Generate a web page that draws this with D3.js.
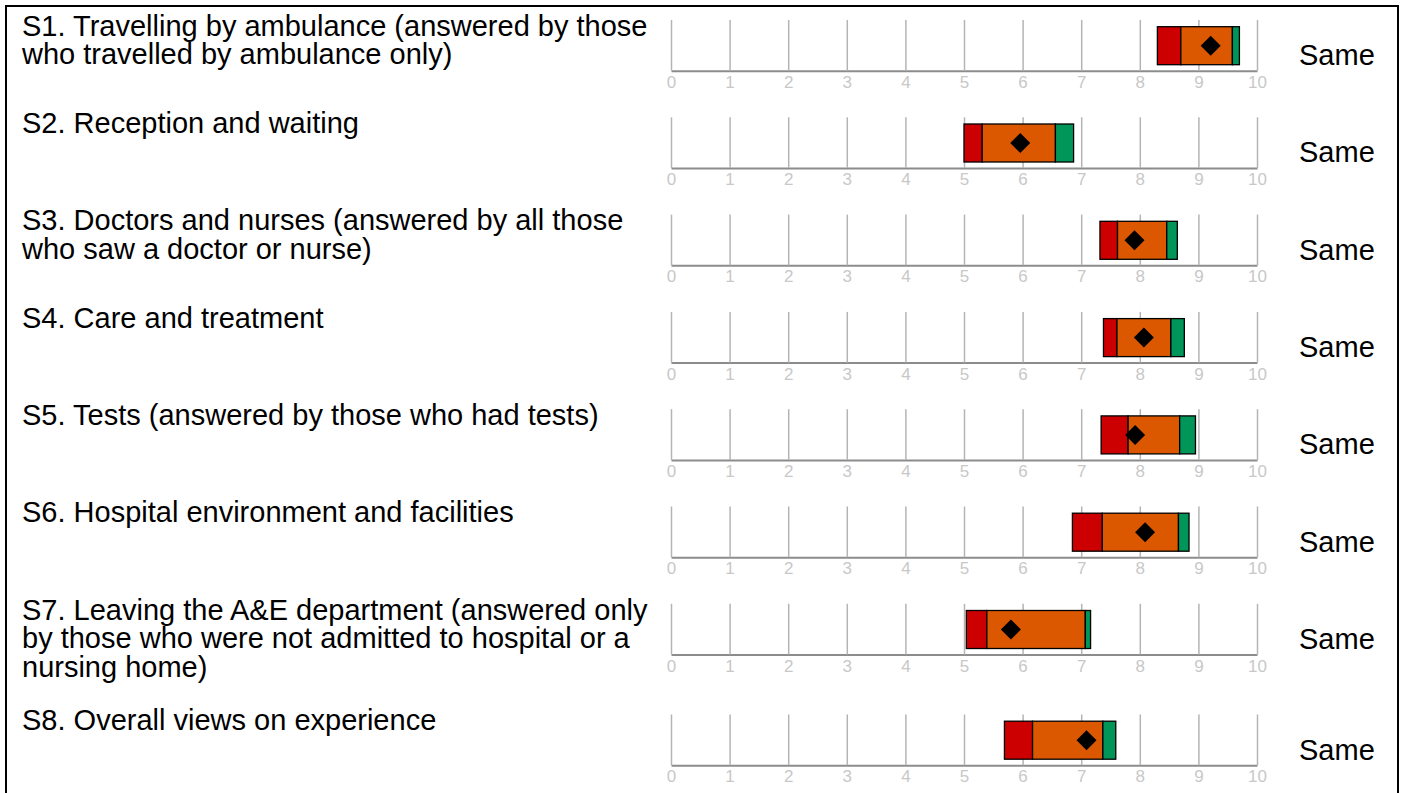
<!DOCTYPE html>
<html>
<head>
<meta charset="utf-8">
<script src="https://cdn.jsdelivr.net/npm/d3@7"></script>
<style>
  body { margin: 0; background: #fff; }
  svg { display: block; }
  .axis .domain { stroke: #8c8c8c; stroke-width: 2; }
  .axis .tick line { stroke: #b4b4b4; stroke-width: 1.5; }
  .axis .tick text { fill: #c8c8c8; font-family: "Liberation Sans", Arial, sans-serif; font-size: 17px; }
</style>
</head>
<body>
<svg id="chart" width="1404" height="793"></svg>
<script>
// Section labels, already wrapped as in the report
const sections = [
  ['S1. Travelling by ambulance (answered by those', 'who travelled by ambulance only)'],
  ['S2. Reception and waiting'],
  ['S3. Doctors and nurses (answered by all those', 'who saw a doctor or nurse)'],
  ['S4. Care and treatment'],
  ['S5. Tests (answered by those who had tests)'],
  ['S6. Hospital environment and facilities'],
  ['S7. Leaving the A&E department (answered only', 'by those who were not admitted to hospital or a', 'nursing home)'],
  ['S8. Overall views on experience']
];

// Band edges on the 0-10 scale
const worseStart  = [8.30, 5.00, 7.32, 7.38, 7.34, 6.85, 5.04, 5.69];
const middleStart = [8.70, 5.31, 7.62, 7.61, 7.80, 7.36, 5.39, 6.17];
const betterStart = [9.58, 6.56, 8.46, 8.53, 8.68, 8.66, 7.07, 7.37];
const betterEnd   = [9.70, 6.87, 8.64, 8.76, 8.95, 8.84, 7.16, 7.59];

// Trust score (diamond)
const scores = [9.21, 5.96, 7.91, 8.07, 7.92, 8.09, 5.80, 7.09];

const comparison = ['Same', 'Same', 'Same', 'Same', 'Same', 'Same', 'Same', 'Same'];

const tickValues = [0, 1, 2, 3, 4, 5, 6, 7, 8, 9, 10];

const COLORS = { worse: '#cc0000', middle: '#db5800', better: '#00965a' };
const FONT = '"Liberation Sans", Arial, sans-serif';

const svg = d3.select('#chart');

// outer frame (bottom edge falls outside the picture)
svg.append('rect')
  .attr('x', 6).attr('y', 6)
  .attr('width', 1392).attr('height', 820)
  .attr('fill', 'none')
  .attr('stroke', '#000')
  .attr('stroke-width', 2);

const x = d3.scaleLinear().domain([0, 10]).range([671, 1257]);

const lineH = 28.5;
const gridH = 50.7;

// work out each row's axis position from the number of label lines
let axisY = 70.7;
const rows = sections.map((lines, i) => {
  const row = {
    lines,
    axisY,
    worse: worseStart[i],
    middle: middleStart[i],
    better: betterStart[i],
    end: betterEnd[i],
    score: scores[i],
    comparison: comparison[i]
  };
  axisY += Math.max(97.3, (lines.length - 1) * lineH + 53.7);
  return row;
});

const rowG = svg.selectAll('g.row')
  .data(rows)
  .join('g')
  .attr('class', 'row');

// label text
rowG.append('text')
  .attr('font-family', FONT)
  .attr('font-size', 29)
  .attr('fill', '#000')
  .each(function (d) {
    d3.select(this).selectAll('tspan')
      .data(d.lines)
      .join('tspan')
      .attr('x', 22)
      .attr('y', (_, j) => d.axisY - 35 + j * lineH)
      .text(t => t);
  });

// axis with upward ticks as gridlines
rowG.append('g')
  .attr('class', 'axis')
  .attr('transform', d => `translate(0,${d.axisY})`)
  .each(function () {
    d3.select(this).call(
      d3.axisBottom(x)
        .tickValues(tickValues)
        .tickFormat(d3.format('d'))
        .tickSize(-gridH)
        .tickSizeOuter(0)
        .tickPadding(5)
    );
  });

// stacked bands
const barTop = 44;
const barH = 38;
const bands = [
  { key: 'worse', from: d => d.worse, to: d => d.middle },
  { key: 'middle', from: d => d.middle, to: d => d.better },
  { key: 'better', from: d => d.better, to: d => d.end }
];

bands.forEach(b => {
  rowG.append('rect')
    .attr('x', d => x(b.from(d)))
    .attr('y', d => d.axisY - barTop)
    .attr('width', d => x(b.to(d)) - x(b.from(d)))
    .attr('height', barH)
    .attr('fill', COLORS[b.key])
    .attr('stroke', '#000')
    .attr('stroke-width', 1.3);
});

// score diamond
const diamond = d3.symbol().type(d3.symbolSquare).size(200);
rowG.append('path')
  .attr('d', diamond)
  .attr('transform', d => `translate(${x(d.score)},${d.axisY - barTop + barH / 2}) rotate(45)`)
  .attr('fill', '#000');

// comparison text
rowG.append('text')
  .attr('x', 1299)
  .attr('y', d => d.axisY - 5.7)
  .attr('font-family', FONT)
  .attr('font-size', 29)
  .attr('fill', '#000')
  .text(d => d.comparison);
</script>
</body>
</html>
